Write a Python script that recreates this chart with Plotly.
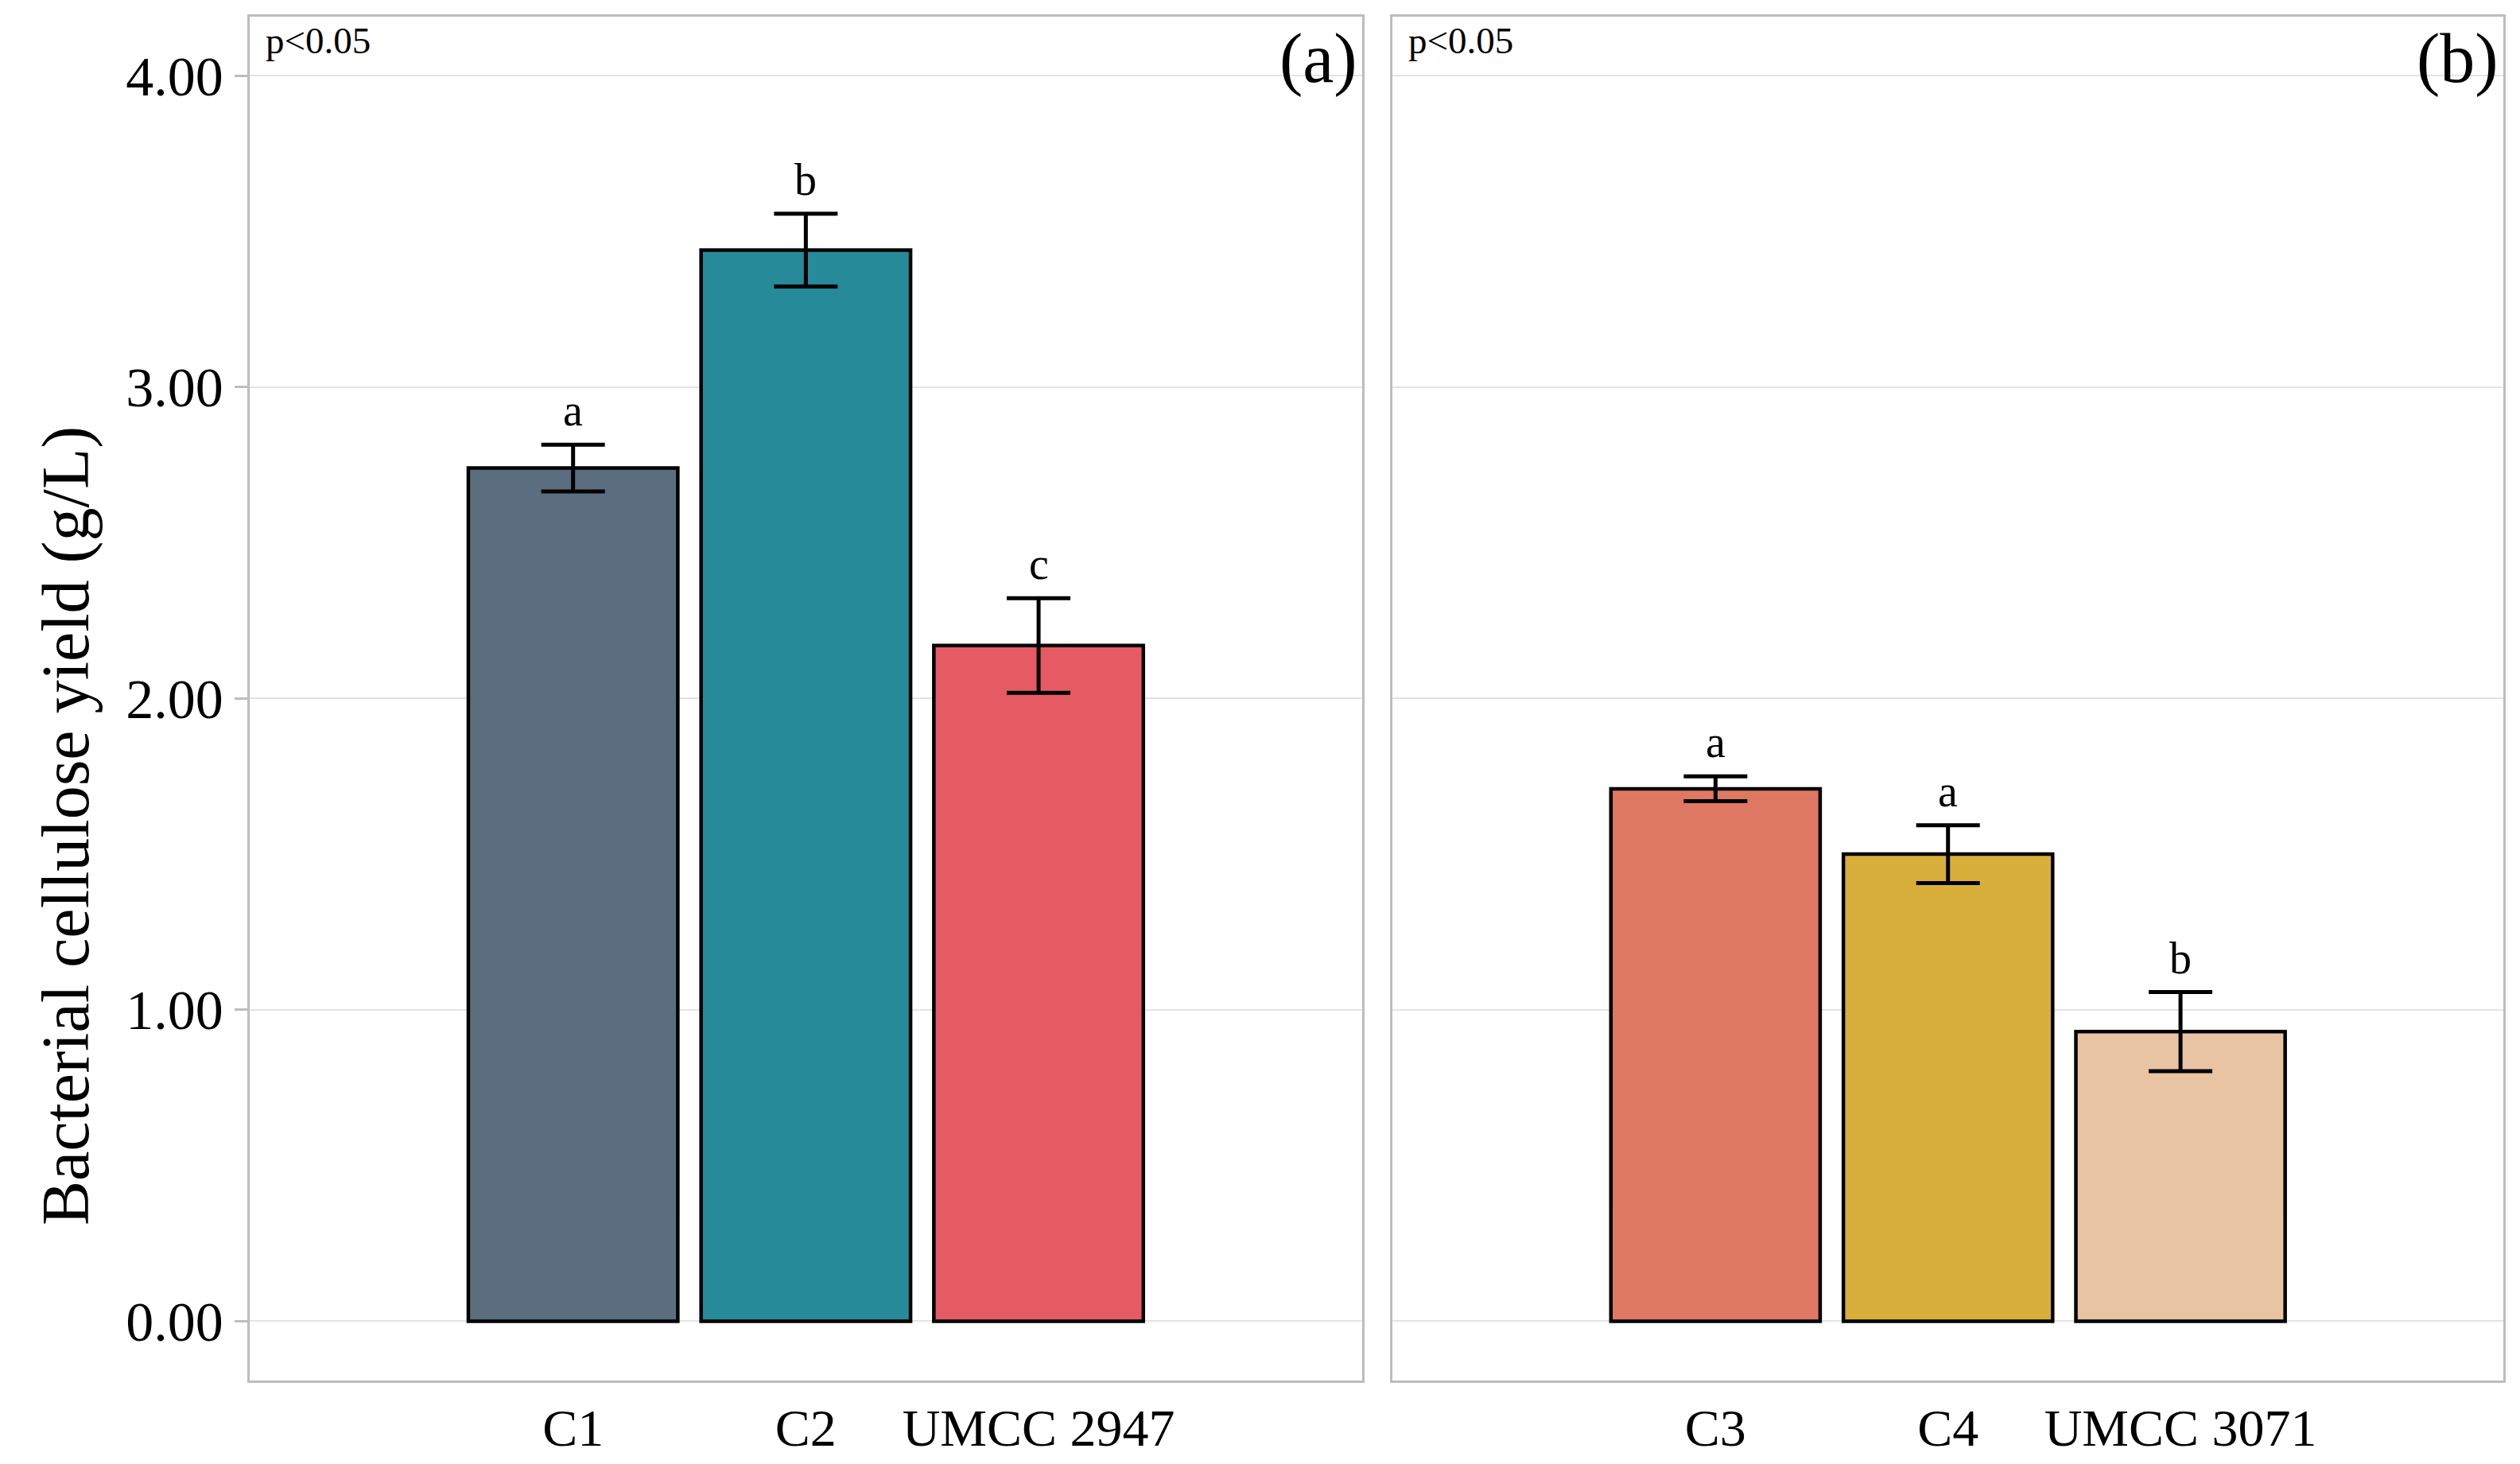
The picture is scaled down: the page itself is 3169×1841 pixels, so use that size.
import plotly.graph_objects as go
from plotly.subplots import make_subplots

# panel (a)
strains_a = ["C1", "C2", "UMCC 2947"]
yield_a = [2.74, 3.44, 2.17]
err_a = [0.075, 0.117, 0.152]
letters_a = ["a", "b", "c"]
colors_a = ["#5A6E7F", "#268A99", "#E65B63"]

# panel (b)
strains_b = ["C3", "C4", "UMCC 3071"]
yield_b = [1.71, 1.50, 0.93]
err_b = [0.04, 0.093, 0.127]
letters_b = ["a", "a", "b"]
colors_b = ["#DF7862", "#D8AF3A", "#E8C4A3"]

y_ticks = [0, 1, 2, 3, 4]

FONT = "Liberation Serif"
W, H = 3169, 1841

fig = make_subplots(rows=1, cols=2, shared_yaxes=True)

panels = [
    (strains_a, yield_a, err_a, letters_a, colors_a, "(a)"),
    (strains_b, yield_b, err_b, letters_b, colors_b, "(b)"),
]

for k, (names, vals, errs, letters, cols, tag) in enumerate(panels):
    col = k + 1
    fig.add_trace(
        go.Bar(
            x=names,
            y=vals,
            width=0.9,
            marker=dict(color=cols, line=dict(color="black", width=4.5)),
            error_y=dict(type="data", array=errs, color="black", thickness=5, width=40),
            showlegend=False,
        ),
        row=1,
        col=col,
    )
    xref = "x" if k == 0 else "x2"
    yref = "y" if k == 0 else "y2"
    # significance letters above the error bars
    for name, v, e, let in zip(names, vals, errs, letters):
        fig.add_annotation(
            x=name, y=v + e, xref=xref, yref=yref, text=let, showarrow=False,
            yanchor="bottom", yshift=10, font=dict(family=FONT, size=56, color="black"),
        )
    fig.add_annotation(
        x=0, y=1, xref=f"{xref} domain", yref=f"{yref} domain", text="p<0.05",
        showarrow=False, xanchor="left", yanchor="top", xshift=18, yshift=-2,
        font=dict(family=FONT, size=47, color="black"),
    )
    fig.add_annotation(
        x=1, y=1, xref=f"{xref} domain", yref=f"{yref} domain", text=tag,
        showarrow=False, xanchor="right", yanchor="top", xshift=-4, yshift=-2,
        font=dict(family=FONT, size=88, color="black"),
    )

# y title sits a bit below the panel centre in the original
fig.add_annotation(
    x=0.0237, y=0.44, xref="paper", yref="paper", text="Bacterial cellulose yield (g/L)",
    showarrow=False, textangle=-90, xanchor="center", yanchor="middle",
    font=dict(family=FONT, size=84, color="black"),
)

fig.update_xaxes(domain=[0.0965, 0.5380], row=1, col=1)
fig.update_xaxes(domain=[0.5500, 0.9910], row=1, col=2)
fig.update_xaxes(
    type="category",
    range=[-1.39, 3.39],
    showline=True, mirror=True, linecolor="#BDBDBD", linewidth=3,
    showgrid=False, ticks="",
    tickfont=dict(family=FONT, size=66, color="black"),
)
fig.update_yaxes(
    domain=[0.0615, 0.993],
    range=[-0.19, 4.19],
    tickvals=y_ticks, tickformat=".2f",
    showline=True, mirror=True, linecolor="#BDBDBD", linewidth=3,
    showgrid=True, gridcolor="#E3E3E3", gridwidth=2, zeroline=False,
    ticks="outside", ticklen=16, tickwidth=3, tickcolor="#BDBDBD",
    tickfont=dict(family=FONT, size=70, color="black"),
)
fig.update_yaxes(ticks="", row=1, col=2)

fig.update_layout(
    width=W,
    height=H,
    margin=dict(l=0, r=0, t=0, b=0),
    paper_bgcolor="white",
    plot_bgcolor="white",
    bargap=0.1,
)

fig.write_html("out.html")
